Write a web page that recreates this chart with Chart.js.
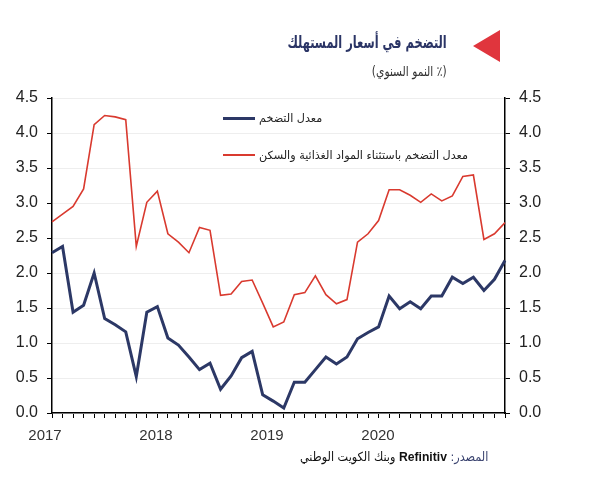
<!DOCTYPE html>
<html lang="ar">
<head>
<meta charset="utf-8">
<script src="https://cdn.jsdelivr.net/npm/chart.js@4/dist/chart.umd.min.js"></script>
<style>
  html, body { margin: 0; padding: 0; background: #fff; }
  #wrap { position: relative; width: 591px; height: 500px; overflow: hidden; }
  #wrap canvas { position: absolute; left: 0; top: 0; }
  .ar { font-family: "DejaVu Sans", sans-serif; position: absolute; white-space: nowrap; direction: rtl; transform-origin: right center; }
  #title { right: 144px; top: 32px; font-size: 17px; font-weight: bold; color: #2b3566; transform: scaleX(0.67); }
  #tri { position: absolute; left: 473px; top: 30px; width: 0; height: 0;
         border-top: 16px solid transparent; border-bottom: 16px solid transparent; border-right: 27px solid #e0353d; }
  #sub { right: 144px; top: 63px; font-size: 13.5px; color: #333; transform: scaleX(0.79); }
  #source { right: 103px; top: 449px; font-size: 12.5px; color: #111; transform: scaleX(0.9); }
  #source .lbl { color: #3b4470; }
  #source b { font-family: "Liberation Sans", Arial, sans-serif; font-size: 13.5px; }
  #legend { position: absolute; left: 223px; top: 108px; }
  .item { display: flex; align-items: center; height: 20px; margin-bottom: 17px; }
  .item .sw { width: 32px; margin-right: 4px; }
  .item span { font-family: "DejaVu Sans", sans-serif; font-size: 11.2px; color: #222; direction: rtl; }
</style>
</head>
<body>
<div id="wrap">
  <canvas id="chart" width="591" height="500"></canvas>
  <div id="tri"></div>
  <div id="title" class="ar">التضخم في أسعار المستهلك</div>
  <div id="sub" class="ar">(٪ النمو السنوي)</div>
  <div id="legend"></div>
  <div id="source" class="ar"><span class="lbl">المصدر: </span> <b>Refinitiv</b> وبنك الكويت الوطني</div>
</div>
<script>
// monthly, Jan 2017 - Aug 2020
const months = [
  '2017-01','2017-02','2017-03','2017-04','2017-05','2017-06','2017-07','2017-08','2017-09','2017-10','2017-11','2017-12',
  '2018-01','2018-02','2018-03','2018-04','2018-05','2018-06','2018-07','2018-08','2018-09','2018-10','2018-11','2018-12',
  '2019-01','2019-02','2019-03','2019-04','2019-05','2019-06','2019-07','2019-08','2019-09','2019-10','2019-11','2019-12',
  '2020-01','2020-02','2020-03','2020-04','2020-05','2020-06','2020-07','2020-08'
];
const yearLabels = ['2017', '2018', '2019', '2020'];

const inflation = [
  2.29, 2.38, 1.44, 1.54, 2.00, 1.35, 1.26, 1.16, 0.52, 1.44, 1.52, 1.07,
  0.97, 0.80, 0.62, 0.71, 0.34, 0.53, 0.79, 0.88, 0.26, 0.17, 0.07, 0.44,
  0.44, 0.62, 0.80, 0.70, 0.80, 1.06, 1.15, 1.23, 1.67, 1.49, 1.59, 1.49,
  1.67, 1.67, 1.94, 1.85, 1.94, 1.75, 1.91, 2.18
];
const coreInflation = [
  2.73, 2.84, 2.95, 3.20, 4.12, 4.25, 4.23, 4.19, 2.38, 3.01, 3.17, 2.56,
  2.44, 2.29, 2.65, 2.61, 1.68, 1.70, 1.88, 1.90, 1.57, 1.23, 1.30, 1.69,
  1.72, 1.96, 1.69, 1.56, 1.62, 2.44, 2.56, 2.75, 3.19, 3.19, 3.11, 3.01,
  3.13, 3.03, 3.10, 3.38, 3.40, 2.48, 2.56, 2.72
];

const seriesNames = ['معدل التضخم', 'معدل التضخم باستثناء المواد الغذائية والسكن'];

Chart.defaults.font.family = '"Liberation Sans", Arial, sans-serif';
Chart.defaults.color = '#222';

const yTicks = {
  stepSize: 0.5,
  padding: 9,
  font: { size: 16 },
  color: '#222',
  callback: v => v.toFixed(1)
};

const chart = new Chart(document.getElementById('chart'), {
  type: 'line',
  data: {
    labels: months,
    datasets: [
      {
        label: seriesNames[0],
        data: inflation,
        borderColor: '#2c3866',
        borderWidth: 3,
        pointRadius: 0,
        tension: 0
      },
      {
        label: seriesNames[1],
        data: coreInflation,
        borderColor: '#d93a2f',
        borderWidth: 1.6,
        pointRadius: 0,
        tension: 0
      }
    ]
  },
  options: {
    responsive: false,
    animation: false,
    layout: { padding: { top: 98, bottom: 51, left: 0, right: 0 } },
    plugins: { legend: { display: false }, tooltip: { enabled: false } },
    scales: {
      x: {
        weight: 0,
        ticks: { display: false },
        grid: { drawOnChartArea: false, tickLength: 5, tickColor: '#000', lineWidth: 1 },
        border: { color: '#000', width: 1.5 },
        afterFit: s => { s.height = 6; }
      },
      years: {
        type: 'linear',
        position: 'bottom',
        weight: 1,
        min: 2017,
        max: 2017 + 453 / 111,
        afterBuildTicks: s => { s.ticks = yearLabels.map(v => ({ value: Number(v) })); },
        ticks: { font: { size: 15 }, color: '#333', padding: 8, labelOffset: -7, callback: v => String(v) },
        grid: { display: false, drawTicks: false },
        border: { display: false },
        afterFit: s => { s.height = 30; }
      },
      y: {
        position: 'left',
        min: 0,
        max: 4.5,
        ticks: yTicks,
        grid: { color: '#eeeeee', tickColor: '#000', tickLength: 5 },
        border: { color: '#000', width: 1.5 },
        afterFit: s => { s.width = 52; }
      },
      y2: {
        position: 'right',
        min: 0,
        max: 4.5,
        ticks: yTicks,
        grid: { drawOnChartArea: false, tickColor: '#000', tickLength: 5 },
        border: { color: '#000', width: 1.5 },
        afterFit: s => { s.width = 86; }
      }
    }
  }
});

// legend drawn in html, inside the plot
const legendEl = document.getElementById('legend');
chart.data.datasets.forEach(ds => {
  const row = document.createElement('div');
  row.className = 'item';
  row.innerHTML = `<div class="sw" style="border-top:${Math.max(2, ds.borderWidth)}px solid ${ds.borderColor}"></div><span>${ds.label}</span>`;
  legendEl.appendChild(row);
});
</script>
</body>
</html>
